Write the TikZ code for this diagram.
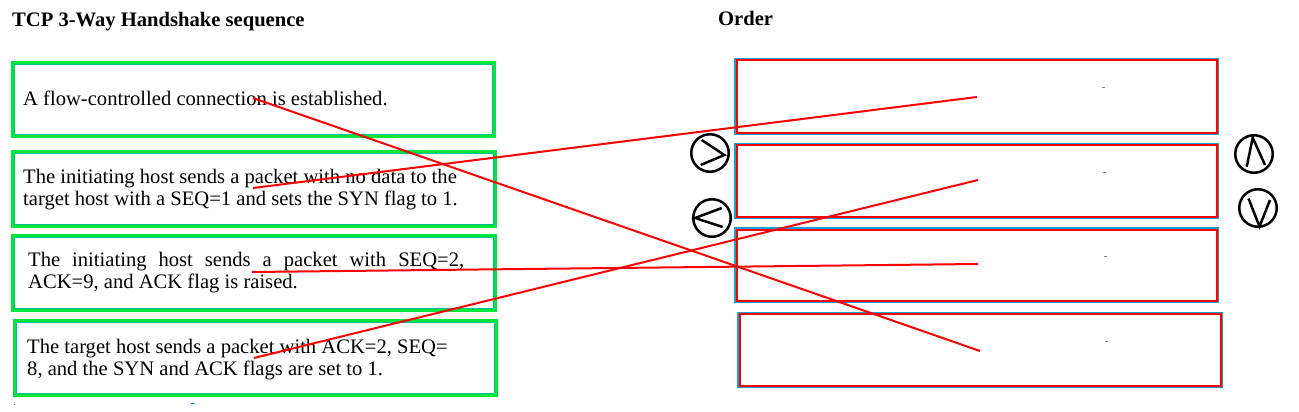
\documentclass[tikz,border=0pt]{standalone}
\usepackage{fontspec}
\setmainfont{Liberation Serif}
\definecolor{boxgreen}{RGB}{0,230,60}
\definecolor{boxblue}{RGB}{0,150,230}
\definecolor{skyblue}{RGB}{20,160,220}
\begin{document}
\begin{tikzpicture}[x=1pt,y=-1pt,
  lbox/.style={rectangle, draw=boxgreen, line width=3pt, outer sep=0pt, inner sep=0pt},
  rbox/.style={rectangle, draw=skyblue, line width=2pt, outer sep=0pt, inner sep=0pt},
  inblue/.style={draw=boxblue!50!boxgreen, line width=0.6pt},
  inred/.style={draw=red, line width=2pt},
  txt/.style={anchor=base west, inner sep=0pt, font=\fontsize{20.6}{22.3}\selectfont},
  ttl/.style={anchor=base west, inner sep=0pt, font=\fontsize{20.6}{22.3}\selectfont\bfseries},
  link/.style={draw=red, line width=2pt},
  btn/.style={circle, draw=black, line width=2.5pt, minimum size=37.5pt, inner sep=0pt},
  glyph/.style={draw=black, line width=2.5pt},
  speck/.style={draw=gray, line width=1pt}
]
\useasboundingbox (0,0) rectangle (1299,412);

% titles
\node[ttl] (title) at (12,26.5) {TCP 3-Way Handshake sequence};
\node[ttl] (order) at (718,26) {Order};

% left boxes
\node[lbox, minimum width=482pt, minimum height=74pt] (B1) at (253.5,99.5) {};
\node[lbox, minimum width=482.5pt, minimum height=74.5pt] (B2) at (253.75,188.75) {};
\node[lbox, minimum width=482.5pt, minimum height=74.4pt] (B3) at (253.75,273) {};
\node[lbox, minimum width=482.3pt, minimum height=74.4pt] (B4) at (255.35,358) {};
\foreach \b in {B1,B2,B3,B4}{
  \draw[inblue] ([shift={(1.8,1.8)}]\b.north west) rectangle ([shift={(-1.8,-1.8)}]\b.south east);
}

% left texts
\node[txt] (T1) at (23,106) {A flow-controlled connection is established.};
\node[txt] (T2) at (23,183) {\parbox[t]{470pt}{\raggedright The initiating host sends a packet with no data to the\\target host with a SEQ=1 and sets the SYN flag to 1.}};
\node[txt] (T3) at (28,266) {\parbox[t]{470pt}{\raggedright\makebox[436pt][s]{The initiating host sends a packet with SEQ=2,}\\ACK=9, and ACK flag is raised.}};
\node[txt] (T4) at (27,353) {\parbox[t]{470pt}{\raggedright The target host sends a packet with ACK=2, SEQ=\\8, and the SYN and ACK flags are set to 1.}};

% right boxes
\node[rbox, minimum width=483pt, minimum height=75pt] (R1) at (976.5,96.5) {};
\node[rbox, minimum width=483pt, minimum height=74.5pt] (R2) at (976.5,180.75) {};
\node[rbox, minimum width=483pt, minimum height=74pt] (R3) at (976.5,265) {};
\node[rbox, minimum width=484pt, minimum height=74.5pt] (R4) at (980,349.75) {};
\foreach \b in {R1,R2,R3,R4}{
  \draw[inred] ([shift={(1.5,1.5)}]\b.north west) rectangle ([shift={(-1.5,-1.5)}]\b.south east);
}

% tiny specks
\draw[speck] (1102,88) -- (1104.5,88);
\draw[speck] (1103,172) -- (1105.5,172);
\draw[speck] (1104,256) -- (1106.5,256);
\draw[speck] (1105,341) -- (1107.5,341);
\draw[draw=boxblue, line width=1pt] (13.5,404) -- (14.5,404);
\draw[draw=boxblue, line width=1pt] (191,403) -- (195,403);

% buttons
\node[btn] (C1) at (710,153) {};
\node[btn] (C2) at (712,218) {};
\node[btn] (C3) at (1254,154) {};
\node[btn] (C4) at (1258,208) {};
\draw[glyph] ([shift={(-9.3,12)}]C1.center) -- ([shift={(14.3,2)}]C1.center) -- ([shift={(-8.3,-13)}]C1.center);
\draw[glyph] ([shift={(9.7,-10)}]C2.center) -- ([shift={(-17,0)}]C2.center) -- ([shift={(10.7,9)}]C2.center);
\draw[glyph] ([shift={(-7.3,12.7)}]C3.center) -- ([shift={(-1.3,-16.3)}]C3.center) -- ([shift={(11,11)}]C3.center);
\draw[glyph] ([shift={(-9.5,-9.5)}]C4.center) -- ([shift={(1.5,18.5)}]C4.center) -- ([shift={(12,-8)}]C4.center);

% connector ends
\coordinate (s1) at (253,98);
\coordinate (s2) at (253,188);
\coordinate (s3) at (252,272);
\coordinate (s4) at (254,358);
\coordinate (e1) at (977,97);
\coordinate (e2) at (978,180);
\coordinate (e3) at (978,264);
\coordinate (e4) at (980,351);

\draw[link] (s1) -- (e4);
\draw[link] (s2) -- (e1);
\draw[link] (s3) -- (e3);
\draw[link] (s4) -- (e2);
\end{tikzpicture}
\end{document}
